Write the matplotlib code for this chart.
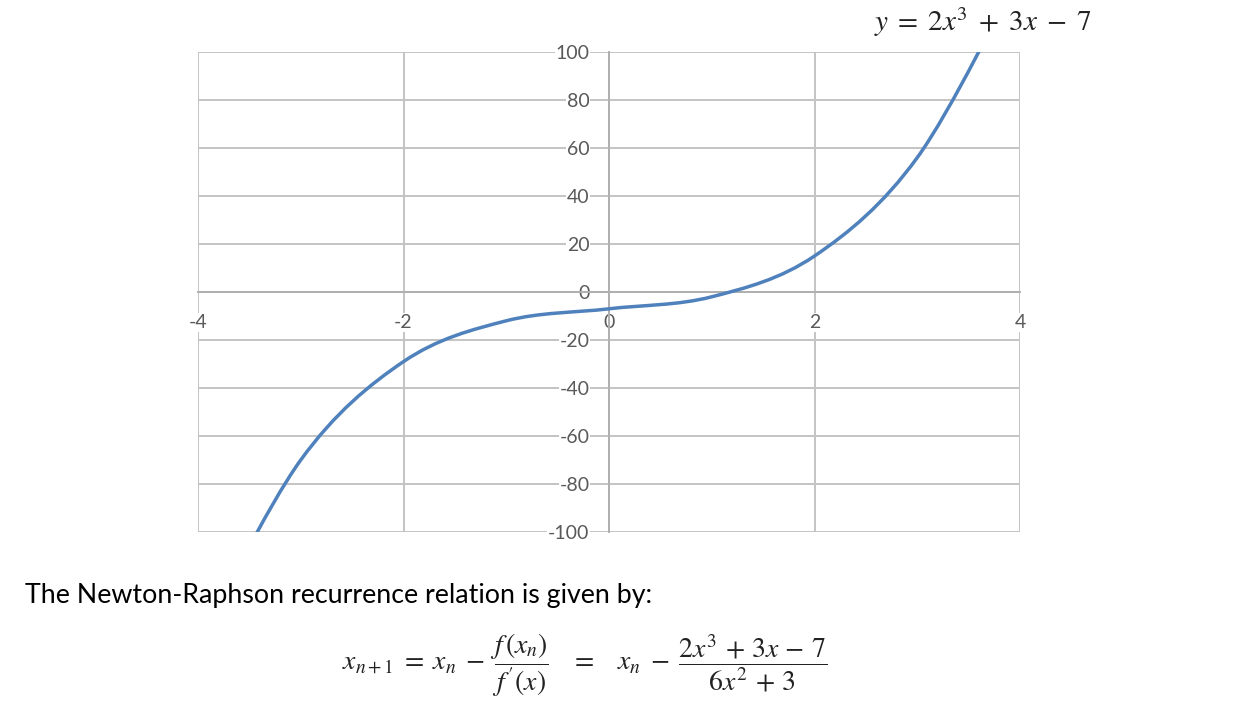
import matplotlib
matplotlib.use("Agg")
import matplotlib.pyplot as plt
from matplotlib.path import Path
from matplotlib.patches import PathPatch

# data (sample points of the smoothed series)
x_vals = [-4, -3, -2, -1, 0, 1, 2, 3, 4]
y_vals = [-147, -70, -29, -12, -7, -2, 15, 56, 133]
x_ticks = [-4, -2, 0, 2, 4]
y_ticks = [-100, -80, -60, -40, -20, 0, 20, 40, 60, 80, 100]

plt.rcParams['mathtext.fontset'] = 'stix'
plt.rcParams['font.family'] = ['Lato', 'DejaVu Sans']

fig = plt.figure(figsize=(12.58, 7.10), dpi=100)
ax = fig.add_axes([198/1258, 1-532/710, (1020-198)/1258, (532-52)/710])
ax.set_xlim(-4, 4)
ax.set_ylim(-100, 100)

grid_c = '#c4c4c4'
for xv in x_ticks:
    ax.axvline(xv, color=grid_c, lw=1.4, zorder=0)
for yv in y_ticks:
    ax.axhline(yv, color=grid_c, lw=1.4, zorder=0)

for s in ['top', 'right']:
    ax.spines[s].set_visible(False)
ax.spines['left'].set_position(('data', 0))
ax.spines['bottom'].set_position(('data', 0))
for s in ['left', 'bottom']:
    ax.spines[s].set_color('#b0b0b0')
    ax.spines[s].set_linewidth(1.4)

ax.set_xticks(x_ticks)
ax.set_yticks(y_ticks)
ax.set_xticklabels([str(v) for v in x_ticks])
ax.set_yticklabels([str(v) for v in y_ticks])
ax.tick_params(axis='both', length=0, labelsize=14, labelcolor='#595959')
ax.tick_params(axis='x', pad=16)
ax.tick_params(axis='y', pad=14)
for lab in ax.get_xticklabels() + ax.get_yticklabels():
    lab.set_bbox(dict(facecolor='white', edgecolor='none', pad=0.5))

# smoothed line (Catmull-Rom -> cubic Bezier), like a spreadsheet smooth line
pts = list(zip(x_vals, y_vals))
verts = [pts[0]]
codes = [Path.MOVETO]
n = len(pts)
for i in range(n - 1):
    p0 = pts[i - 1] if i > 0 else pts[i]
    p1 = pts[i]
    p2 = pts[i + 1]
    p3 = pts[i + 2] if i + 2 < n else pts[i + 1]
    c1 = (p1[0] + (p2[0] - p0[0]) / 6, p1[1] + (p2[1] - p0[1]) / 6)
    c2 = (p2[0] - (p3[0] - p1[0]) / 6, p2[1] - (p3[1] - p1[1]) / 6)
    verts += [c1, c2, p2]
    codes += [Path.CURVE4] * 3
patch = PathPatch(Path(verts, codes), facecolor='none', edgecolor='#4f81bd',
                  lw=2.5, zorder=3, capstyle='round')
ax.add_patch(patch)
patch.set_clip_on(True)

fig.text(983/1258, 1-22/710, r'$y\;=\;2x^3\;+\;3x\;-\;7$', ha='center', va='center',
         fontsize=21, color='#222222')
fig.text(25/1258, 1-595/710, 'The Newton-Raphson recurrence relation is given by:',
         ha='left', va='center', fontsize=19.3, color='black')
fig.text(585/1258, 1-665/710,
         r"$x_{n+1}\;=\;x_n\;-\;\dfrac{f\,(x_n)}{f\,'(x)}\quad=\quad x_n\;-\;\dfrac{2x^3\,+\,3x\,-\,7}{6x^2\,+\,3}$",
         ha='center', va='center', fontsize=20, color='#222222')

fig.savefig('out.png', dpi=100)
